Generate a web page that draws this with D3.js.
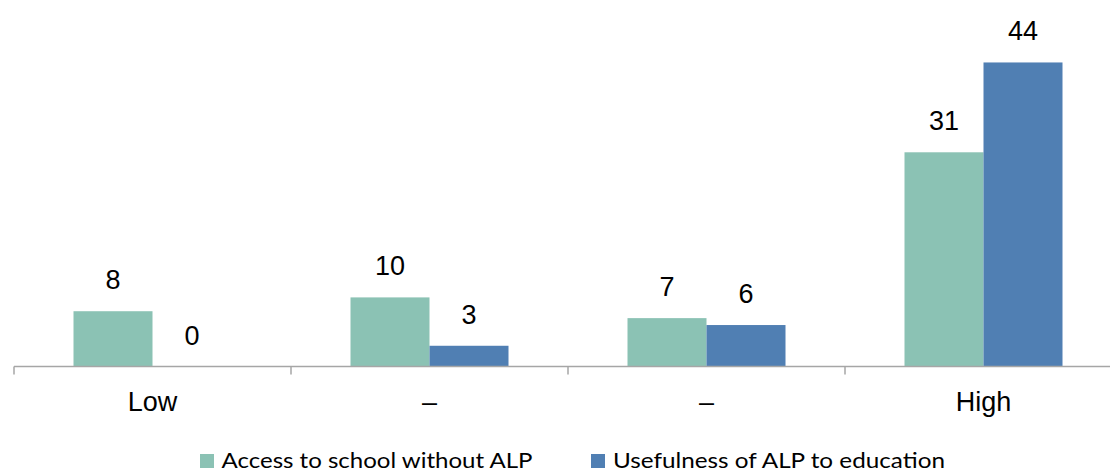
<!DOCTYPE html>
<html>
<head>
<meta charset="utf-8">
<script src="https://cdn.jsdelivr.net/npm/d3@7/dist/d3.min.js"></script>
<style>
  html, body { margin: 0; padding: 0; background: #fff; }
  svg { display: block; }
</style>
</head>
<body>
<svg id="chart" width="1110" height="471"></svg>
<script>
// Categories along the x axis
const categories = ["Low", "–", "–", "High"];
// Series names and values
const seriesNames = ["Access to school without ALP", "Usefulness of ALP to education"];
const accessValues = [8, 10, 7, 31];
const usefulnessValues = [0, 3, 6, 44];
const seriesColors = ["#8BC2B4", "#507FB3"];

const rows = categories.map((c, i) => ({
  key: i, label: c, values: [accessValues[i], usefulnessValues[i]]
}));

const svg = d3.select("#chart");
const baseY = 366.5;

const x = d3.scaleBand()
  .domain(rows.map(d => d.key))
  .range([14, 1122])
  .paddingInner(0)
  .paddingOuter(0);

const x1 = d3.scaleBand()
  .domain([0, 1])
  .range([59.5, x.bandwidth() - 59.5]);

const y = d3.scaleLinear()
  .domain([0, 50])
  .range([baseY, 21]);

// Bars
const groups = svg.append("g").selectAll("g")
  .data(rows).join("g")
  .attr("transform", d => `translate(${x(d.key)},0)`);

groups.selectAll("rect")
  .data(d => d.values.map((v, s) => ({ v, s })))
  .join("rect")
  .attr("x", d => x1(d.s))
  .attr("width", x1.bandwidth())
  .attr("y", d => y(d.v))
  .attr("height", d => baseY - y(d.v))
  .attr("fill", d => seriesColors[d.s]);

// Value labels
groups.selectAll("text")
  .data(d => d.values.map((v, s) => ({ v, s })))
  .join("text")
  .attr("x", d => x1(d.s) + x1.bandwidth() / 2)
  .attr("y", d => y(d.v) - 22)
  .attr("text-anchor", "middle")
  .attr("font-family", "Liberation Sans, Arial, sans-serif")
  .attr("font-size", 27)
  .attr("fill", "#000")
  .text(d => d.v);

// X axis with ticks at category boundaries
const axis = d3.axisBottom(x).tickSize(0).tickFormat(() => "");
const ax = svg.append("g")
  .attr("transform", `translate(0,${baseY})`)
  .call(axis);
ax.select(".domain").attr("stroke", "#A6A6A6").attr("stroke-width", 1.5)
  .attr("d", `M14,0H1122`);
ax.selectAll(".tick").remove();
const bounds = x.domain().map(k => x(k)).concat([x.range()[1]]);
ax.selectAll("line.bound")
  .data(bounds)
  .join("line")
  .attr("class", "bound")
  .attr("x1", d => d).attr("x2", d => d)
  .attr("y1", 0).attr("y2", 8)
  .attr("stroke", "#A6A6A6").attr("stroke-width", 1.5);

ax.selectAll("text.cat")
  .data(rows)
  .join("text")
  .attr("class", "cat")
  .attr("x", d => x(d.key) + x.bandwidth() / 2)
  .attr("y", 44.5)
  .attr("text-anchor", "middle")
  .attr("font-family", "Liberation Sans, Arial, sans-serif")
  .attr("font-size", 27)
  .attr("fill", "#000")
  .text(d => d.label);

// Legend
const legendItems = [
  { name: seriesNames[0], color: seriesColors[0], sx: 200, tx: 221.5, w: 311 },
  { name: seriesNames[1], color: seriesColors[1], sx: 591, tx: 613, w: 332 }
];
const lg = svg.append("g");
lg.selectAll("rect")
  .data(legendItems).join("rect")
  .attr("x", d => d.sx).attr("y", 454)
  .attr("width", 14).attr("height", 14)
  .attr("fill", d => d.color);
lg.selectAll("text")
  .data(legendItems).join("text")
  .attr("x", d => d.tx).attr("y", 468)
  .attr("font-family", "Lato, 'Open Sans', sans-serif")
  .attr("font-size", 21)
  .attr("fill", "#000")
  .attr("textLength", d => d.w)
  .attr("lengthAdjust", "spacingAndGlyphs")
  .text(d => d.name);
</script>
</body>
</html>
